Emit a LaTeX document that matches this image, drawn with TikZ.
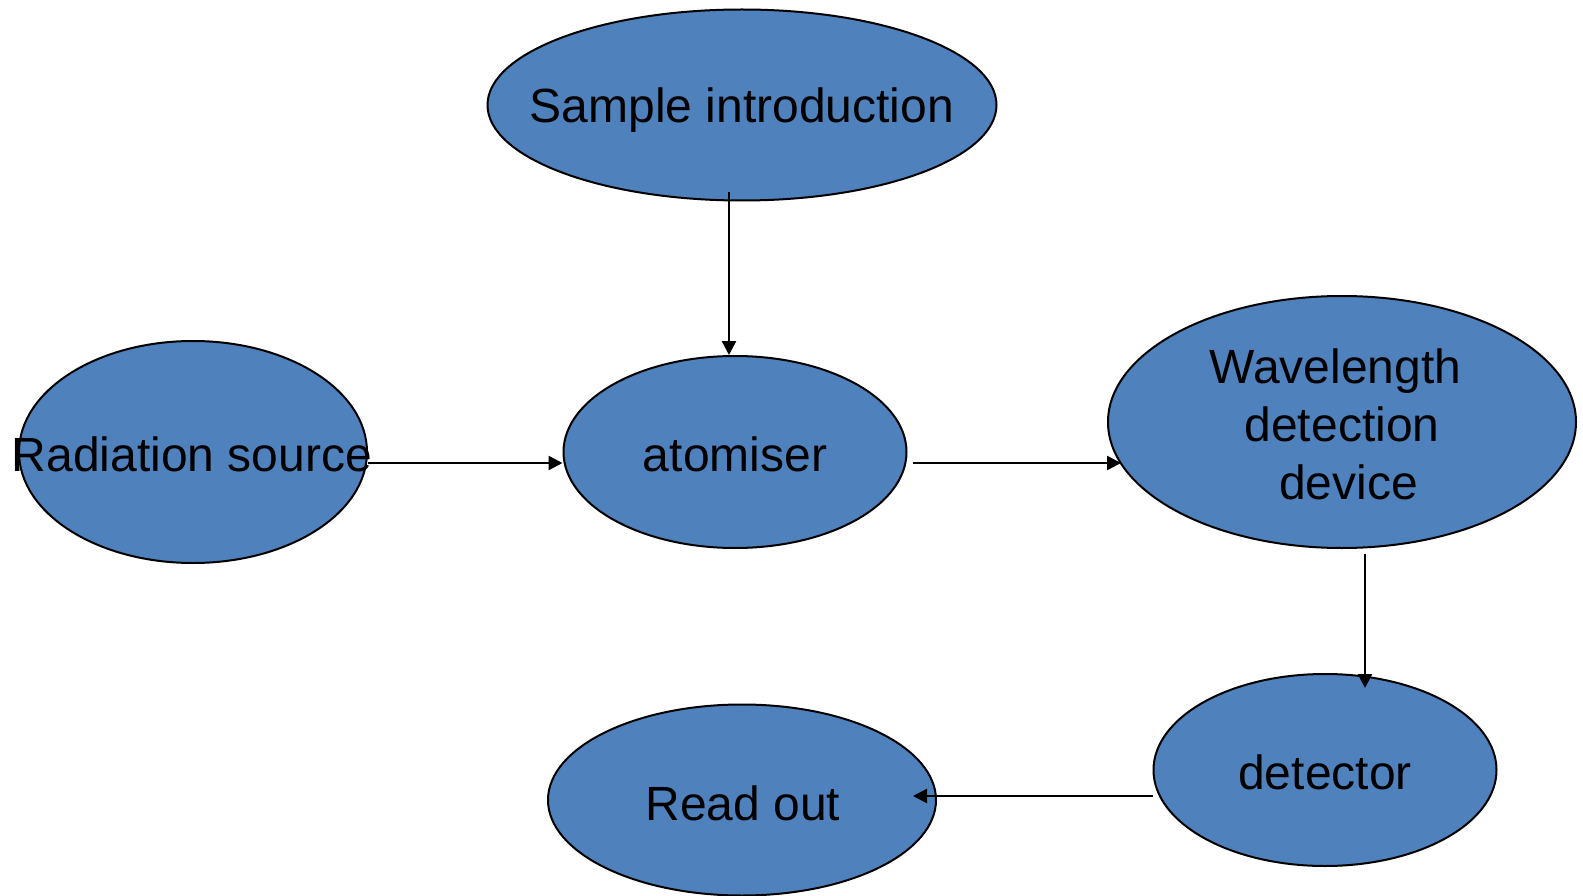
\documentclass[tikz,border=0pt]{standalone}
\usepackage{fontspec}
\setmainfont{Liberation Sans}
\usetikzlibrary{arrows.meta,shapes.geometric}
\definecolor{ovalblue}{HTML}{4F81BD}
\tikzset{
  oval/.style={ellipse, draw=black, line width=2pt, fill=ovalblue, inner sep=0pt},
  lbl/.style={anchor=base, inner sep=0pt, font=\fontsize{48}{57.6}\selectfont, align=center},
  arr/.style={line width=2.5pt, -{Triangle[length=14pt,width=14pt]}}
}
\begin{document}
\begin{tikzpicture}[x=1pt,y=-1pt]
\useasboundingbox (0,0) rectangle (1583,896);
\node[oval, minimum width=509pt, minimum height=191pt] (sample) at (742,105) {};
\node[oval, minimum width=348pt, minimum height=222pt] (rad) at (193,452) {};
\node[oval, minimum width=343pt, minimum height=192pt] (atom) at (735,452) {};
\node[oval, minimum width=468pt, minimum height=252pt] (wave) at (1342,422) {};
\node[oval, minimum width=343pt, minimum height=192pt] (det) at (1325,770) {};
\node[oval, minimum width=388pt, minimum height=191pt] (read) at (742,800) {};

\node[lbl] (tsample) at (742,123) {Sample introduction};
\node[lbl] (trad) at (192,471) {Radiation source};
\node[lbl] (tatom) at (735,471) {atomiser};
\node[lbl] (twave) at (1342,499) {Wavelength\hspace*{13pt}\\detection\\\hspace*{13pt}device};
\node[lbl] (tdet) at (1325,789) {detector};
\node[lbl] (tread) at (743,820) {Read out};

\draw[arr] ([xshift=-13pt,yshift=9pt]sample.south) -- ([xshift=-6pt]atom.north);
\draw[arr] ([yshift=-11pt]rad.east) -- ([yshift=-11pt]atom.west);
\draw[arr] ([xshift=5pt,yshift=-11pt]atom.east) -- ([xshift=14pt,yshift=-41pt]wave.west);
\draw[arr] ([xshift=23pt,yshift=-5pt]wave.south) -- ([xshift=40pt,yshift=-15pt]det.north);
\draw[arr] ([yshift=-26pt]det.west) -- ([xshift=-24pt,yshift=4pt]read.east);
\end{tikzpicture}
\end{document}
